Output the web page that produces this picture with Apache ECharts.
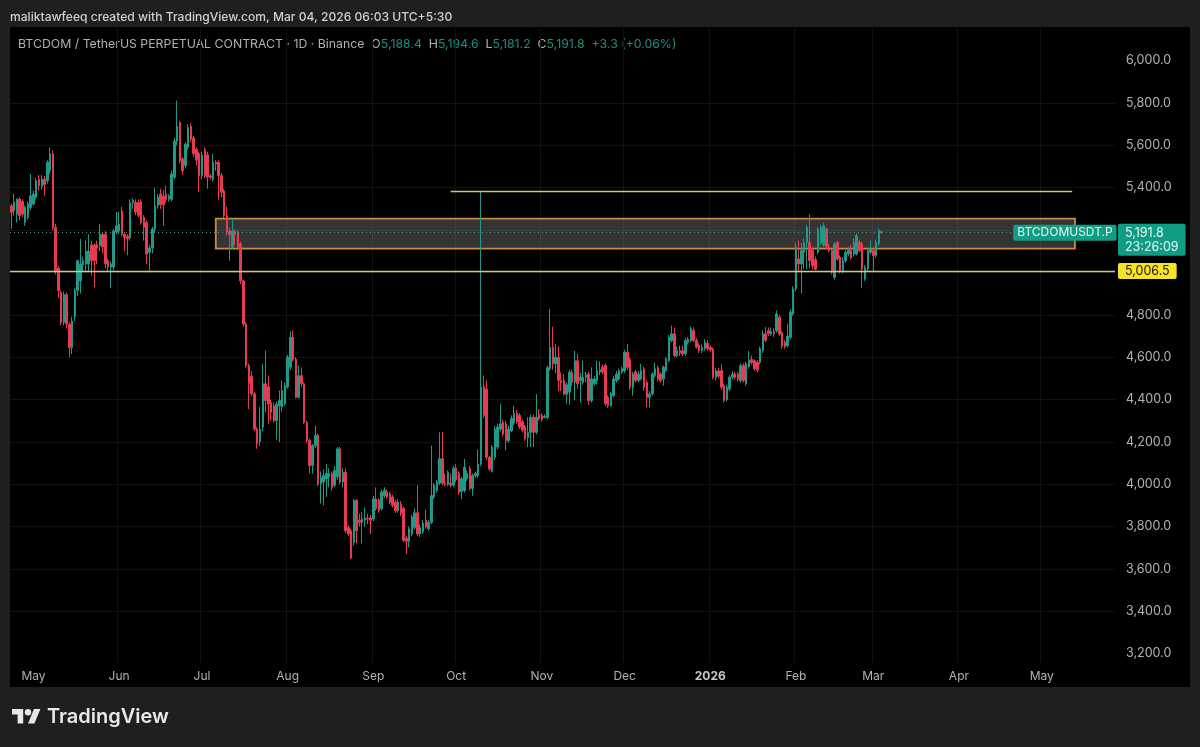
<!DOCTYPE html>
<html><head><meta charset="utf-8">
<style>
html,body{margin:0;padding:0;background:#1f1f1f;width:1200px;height:747px;overflow:hidden}
#panel{position:absolute;left:10px;top:27px;width:1180px;height:660px;background:#000}
#c{position:absolute;left:0;top:0;width:1200px;height:747px}
</style>
<script src="https://cdn.jsdelivr.net/npm/echarts@6/dist/echarts.min.js"></script>
</head><body><div id="panel"></div><div id="c"></div>
<script>
const opens=[5315,5291,5275,5346,5335,5236,5260,5307,5323,5355,
5440,5405,5440,5433,5480,5560,5213,5020,4905,4765,
4895,4756,4645,4790,4915,4960,5035,5040,5040,5130,
5130,5130,5127,5180,5180,5055,5025,5025,5190,5195,
5290,5180,5170,5165,5330,5330,5330,5335,5260,5235,
5095,5115,5205,5315,5370,5360,5370,5345,5345,5450,
5620,5708,5535,5505,5590,5690,5635,5580,5560,5457,
5580,5555,5455,5440,5520,5520,5457,5385,5268,5195,
5120,5195,5190,5135,4960,4756,4560,4510,4427,4260,
4200,4270,4474,4460,4385,4370,4300,4370,4364,4380,
4460,4552,4694,4590,4410,4512,4474,4292,4206,4088,
4182,4230,4001,4010,4025,4035,4050,3995,4035,4167,
4010,4056,3795,3780,3725,3923,3830,3820,3830,3840,
3840,3835,3930,3925,3885,3945,3962,3955,3940,3915,
3875,3905,3885,3745,3730,3765,3795,3865,3765,3775,
3830,3790,3820,3940,3970,4005,4120,4005,4000,4005,
3995,4075,4050,3965,3970,4025,4075,3980,4040,4040,
4095,4460,4450,4127,4060,4127,4175,4260,4292,4285,
4205,4253,4290,4335,4325,4295,4270,4220,4245,4316,
4245,4330,4325,4315,4315,4545,4646,4568,4599,4490,
4490,4425,4435,4528,4481,4583,4490,4480,4505,4520,
4395,4475,4490,4530,4552,4560,4410,4371,4418,4490,
4497,4530,4536,4623,4590,4458,4530,4490,4497,4545,
4480,4410,4426,4513,4550,4520,4497,4536,4583,4678,
4710,4607,4630,4630,4615,4670,4678,4725,4678,4655,
4630,4640,4665,4645,4638,4505,4535,4536,4465,4400,
4450,4505,4520,4520,4490,4560,4475,4555,4590,4583,
4575,4575,4630,4710,4725,4710,4722,4725,4788,4715,
4670,4654,4694,4804,4922,5064,5040,5095,5142,5142,
5103,5060,5095,5142,5130,5205,5120,5103,4977,5142,
5071,5005,5056,5087,5103,5087,5087,5142,5134,4970,
5016,5095,5103,5080,5135,5188.4];
const closes=[5284,5331,5346,5268,5275,5307,5323,5362,5370,5433,
5410,5440,5415,5520,5560,5213,5008,4914,4765,4895,
4756,4645,4770,4914,5055,5040,5055,5100,5100,5055,
5055,5115,5180,5120,5040,5025,5040,5195,5220,5228,
5180,5165,5160,5330,5340,5285,5270,5235,5213,5087,
5115,5205,5315,5355,5320,5320,5345,5360,5465,5620,
5690,5527,5480,5605,5685,5630,5560,5530,5457,5555,
5457,5450,5450,5520,5512,5457,5378,5268,5190,5178,
5195,5180,5120,4960,4756,4560,4475,4427,4260,4190,
4260,4474,4395,4380,4340,4300,4378,4395,4442,4465,
4600,4694,4590,4410,4512,4474,4292,4206,4088,4182,
4230,4001,4030,4040,4050,4050,3985,4065,4167,4010,
4056,3780,3765,3650,3923,3780,3820,3835,3840,3835,
3830,3930,3885,3875,3962,3970,3940,3915,3900,3875,
3915,3860,3735,3730,3790,3845,3865,3765,3795,3815,
3800,3820,3946,3995,4010,4120,4005,4000,4055,3995,
4075,4020,3962,4025,4080,4050,3980,4040,4050,4095,
4460,4325,4127,4072,4175,4260,4270,4285,4237,4205,
4260,4310,4335,4295,4270,4255,4215,4245,4316,4245,
4316,4310,4305,4320,4550,4646,4568,4599,4490,4480,
4425,4470,4528,4481,4583,4474,4505,4505,4515,4395,
4497,4497,4536,4540,4530,4380,4371,4426,4497,4520,
4536,4545,4623,4552,4458,4520,4490,4520,4536,4458,
4410,4426,4520,4545,4497,4490,4552,4591,4694,4710,
4607,4630,4620,4615,4678,4685,4733,4678,4647,4630,
4645,4670,4640,4635,4505,4535,4510,4458,4395,4458,
4505,4520,4505,4497,4560,4490,4568,4585,4575,4545,
4540,4640,4710,4680,4710,4720,4710,4804,4709,4654,
4650,4700,4812,4922,5119,5040,5103,5142,5213,5056,
5032,5015,5205,5213,5220,5120,5103,5000,5135,5063,
5005,5056,5095,5106,5068,5142,5174,5103,5016,5024,
5103,5110,5080,5142,5197,5191.8];
const highs=[5323,5370,5350,5355,5345,5315,5335,5465,5385,5445,
5460,5460,5455,5530,5590,5575,5230,5030,4915,4910,
4905,4765,4790,4925,5060,5158,5075,5150,5180,5150,
5135,5150,5228,5190,5195,5065,5050,5205,5285,5285,
5310,5190,5180,5345,5350,5345,5345,5345,5270,5245,
5130,5215,5400,5370,5395,5390,5410,5370,5480,5635,
5811,5715,5545,5615,5700,5705,5645,5590,5570,5570,
5590,5570,5465,5560,5530,5530,5470,5395,5310,5210,
5250,5205,5200,5145,4965,4765,4570,4535,4435,4270,
4365,4568,4631,4513,4400,4385,4390,4442,4490,4480,
4610,4720,4725,4600,4560,4552,4480,4300,4215,4190,
4277,4240,4060,4070,4096,4075,4060,4085,4175,4175,
4075,4075,3805,3790,3930,3930,3860,3868,3890,3860,
3855,3945,3985,3935,3975,3985,3975,3965,3950,3925,
3930,3920,3895,3755,3800,3855,3885,3995,3810,3830,
3880,3830,4182,4005,4020,4245,4245,4050,4065,4050,
4085,4095,4060,4035,4120,4065,4085,4050,4060,4165,
5385,4513,4490,4135,4185,4275,4285,4378,4305,4300,
4275,4325,4370,4350,4335,4305,4280,4316,4330,4330,
4425,4355,4335,4330,4560,4827,4744,4662,4650,4528,
4520,4480,4540,4540,4630,4615,4525,4583,4530,4530,
4552,4510,4583,4580,4565,4570,4420,4435,4510,4535,
4545,4555,4635,4662,4600,4530,4540,4535,4568,4555,
4490,4440,4530,4575,4560,4530,4560,4600,4705,4749,
4740,4650,4655,4655,4690,4695,4745,4740,4690,4665,
4660,4685,4680,4655,4645,4550,4550,4568,4475,4470,
4515,4535,4530,4530,4570,4570,4578,4630,4607,4590,
4585,4650,4725,4742,4740,4740,4735,4820,4800,4725,
4680,4757,4825,4935,5138,5150,5140,5160,5225,5275,
5120,5075,5215,5225,5235,5212,5135,5110,5145,5150,
5080,5070,5105,5120,5130,5160,5185,5155,5145,5035,
5115,5150,5115,5155,5208,5194.6];
const lows=[5205,5268,5236,5245,5260,5220,5250,5295,5315,5345,
5385,5390,5360,5420,5465,5200,4990,4880,4750,4750,
4735,4600,4615,4770,4890,4900,5000,5000,5005,4985,
4930,5040,5100,5090,5020,5005,4925,5010,5180,5180,
5170,5100,5080,5150,5300,5270,5260,5225,5150,5040,
5000,5090,5190,5300,5300,5220,5330,5335,5335,5440,
5600,5515,5460,5490,5580,5615,5545,5505,5380,5440,
5445,5395,5440,5430,5480,5340,5355,5255,5175,5055,
5110,5130,5105,4945,4745,4550,4355,4415,4250,4167,
4180,4250,4340,4285,4300,4290,4210,4198,4340,4370,
4450,4540,4580,4405,4405,4460,4285,4195,4050,4050,
4170,3990,3908,3900,3940,3985,3970,3985,4020,4000,
3985,3770,3755,3647,3710,3720,3800,3720,3800,3810,
3765,3825,3875,3865,3875,3935,3930,3905,3890,3865,
3865,3850,3725,3670,3702,3755,3785,3755,3750,3765,
3790,3780,3810,3930,3960,3995,3995,3990,3990,3985,
3985,4010,3950,3930,3960,4015,3970,3945,4030,4030,
4085,4315,4115,4062,4055,4115,4165,4250,4225,4160,
4195,4245,4280,4285,4260,4245,4205,4175,4175,4174,
4235,4300,4295,4310,4305,4535,4540,4525,4440,4440,
4420,4380,4375,4465,4395,4450,4385,4470,4480,4375,
4385,4465,4470,4515,4520,4370,4360,4365,4410,4480,
4490,4520,4525,4540,4445,4418,4480,4480,4490,4440,
4363,4363,4418,4505,4485,4480,4465,4530,4575,4670,
4600,4600,4605,4605,4605,4660,4670,4670,4640,4620,
4620,4630,4630,4625,4495,4490,4500,4445,4385,4390,
4440,4495,4495,4485,4480,4480,4465,4545,4565,4535,
4530,4565,4620,4670,4700,4700,4695,4715,4700,4640,
4640,4645,4685,4795,4910,5000,4900,5015,5015,5020,
5015,5010,5085,5130,5120,5110,5095,4990,4965,5055,
4995,4995,5045,5075,5060,5075,5080,5095,4927,4960,
5005,5085,5000,5070,5125,5181.2];
const priceTicks=[3200,3400,3600,3800,4000,4200,4400,4600,4800,5000,5200,5400,5600,5800,6000];
const monthLabels=['2026','Feb','Mar','Apr','May','Jun','Jul','Aug','Sep','Oct','Nov','Dec'];
const lastPrice=5191.8, supportLevel=5006.5, resistanceLevel=5385, zoneTop=5254, zoneBottom=5112;
const startDate=Date.UTC(2025,3,23), slotCount=400;
const categories=[];
for(let i=0;i<slotCount;i++){categories.push(new Date(startDate+i*86400000).toISOString().slice(0,10));}
const isMonthStart=(i,v)=>v.slice(8)==='01';
const candles=opens.map((o,i)=>[o,closes[i],lows[i],highs[i]]);
const UP='#1f9a88',DOWN='#e63b50',BOX='#0f9d84',FONT='Inter, "Noto Sans", sans-serif';
const fmt=v=>Number(v).toLocaleString('en-US',{minimumFractionDigits:1,maximumFractionDigits:1});
const chart=echarts.init(document.getElementById('c'),null,{renderer:'canvas'});
chart.setOption({
 animation:false,backgroundColor:'transparent',
 grid:{left:10,right:85,top:27.6,bottom:84.4,containLabel:false},
 xAxis:{type:'category',data:categories,boundaryGap:true,
  axisLine:{show:false},axisTick:{show:false},
  axisLabel:{interval:isMonthStart,margin:8,color:'#b2b2b2',fontFamily:FONT,fontSize:12,hideOverlap:false,
   formatter:v=>{const m=monthLabels[+v.slice(5,7)-1];return m==='2026'?'{y|2026}':m;},
   rich:{y:{color:'#c8c8c8',fontWeight:'bold',fontFamily:FONT,fontSize:12}}},
  splitLine:{show:true,showMinLine:false,showMaxLine:false,interval:isMonthStart,lineStyle:{color:'#121212',width:1}}},
 yAxis:{type:'value',position:'right',min:3157.5,max:6156,
  axisLine:{show:false},
  axisTick:{show:false,customValues:priceTicks},
  axisLabel:{customValues:priceTicks,margin:11,color:'#b2b2b2',fontFamily:FONT,fontSize:12.5,formatter:fmt},
  splitLine:{show:true,showMinLine:false,showMaxLine:false,lineStyle:{color:'#121212',width:1}}},
 series:[{type:'candlestick',data:candles,barWidth:2,clip:true,
  itemStyle:{color:UP,color0:DOWN,borderColor:UP,borderColor0:DOWN,borderWidth:1},
  markArea:{silent:true,
   itemStyle:{color:'rgba(125,125,125,0.42)',borderColor:'#c98a45',borderWidth:1.8},
   data:[[{coord:[categories[74],zoneTop]},{coord:[categories[385],zoneBottom]}]]},
  markLine:{silent:true,symbol:'none',precision:1,
   data:[
    {yAxis:lastPrice,lineStyle:{color:'#4d8f82',type:[1,3],width:1},
     label:{show:true,position:'end',distance:3,offset:[0,8],formatter:'5,191.8\n23:26:09',align:'left',
      backgroundColor:BOX,color:'#e8f5f2',fontFamily:FONT,fontSize:12.5,lineHeight:14,padding:[2,7,2,7],borderRadius:2}},
    {yAxis:supportLevel,lineStyle:{color:'#dcc868',type:'solid',width:1.4},
     label:{show:true,position:'end',distance:3,formatter:'5,006.5',
      backgroundColor:'#f7e327',color:'#1a1a1a',fontFamily:FONT,fontSize:12.5,padding:[2,7,1,7],borderRadius:2}},
    [{coord:[categories[159],resistanceLevel],lineStyle:{color:'#d4c06c',type:'solid',width:1.4},label:{show:false}},
     {coord:[categories[384],resistanceLevel]}]
   ]},
  markPoint:{silent:true,symbol:'rect',symbolSize:0,
   data:[{coord:[categories[slotCount-1],lastPrice],
    label:{show:true,position:'left',distance:0,offset:[3,1],formatter:'BTCDOMUSDT.P',backgroundColor:BOX,color:'#e8f5f2',
     fontFamily:FONT,fontSize:12,padding:[2,4,2,4],borderRadius:2}}]}
 }],
 graphic:[
  {type:'text',left:10,top:11,style:{text:'maliktawfeeq created with TradingView.com, Mar 04, 2026 06:03 UTC+5:30',fill:'#d0d0d0',font:'500 12.1px '+FONT}},
  {type:'text',left:18,top:38,style:{
    text:'{w|BTCDOM / TetherUS PERPETUAL CONTRACT · 1D · Binance  O}{g|5,188.4}{w|  H}{g|5,194.6}{w|  L}{g|5,181.2}{w|  C}{g|5,191.8  +3.3 (+0.06%)}',
    rich:{w:{fill:'#b0b0b0',font:'12.3px '+FONT},g:{fill:'#1f8f7d',font:'12.3px '+FONT}}}},
  {type:'polygon',x:12,y:705.8,scaleX:0.8,scaleY:0.8,shape:{points:[[0,4],[14,4],[14,22],[7,22],[7,11],[0,11]]},style:{fill:'#e8e8e8'}},
  {type:'polygon',x:12,y:705.8,scaleX:0.8,scaleY:0.8,shape:{points:[[27.5,4],[35.5,4],[28,22],[20,22]]},style:{fill:'#e8e8e8'}},
  {type:'circle',x:12+20*0.8,y:705.8+8*0.8,shape:{r:3.2},style:{fill:'#e8e8e8'}},
  {type:'text',left:47,top:707,style:{text:'TradingView',fill:'#e8e8e8',font:'600 20px '+FONT}}
 ]
});
</script></body></html>
